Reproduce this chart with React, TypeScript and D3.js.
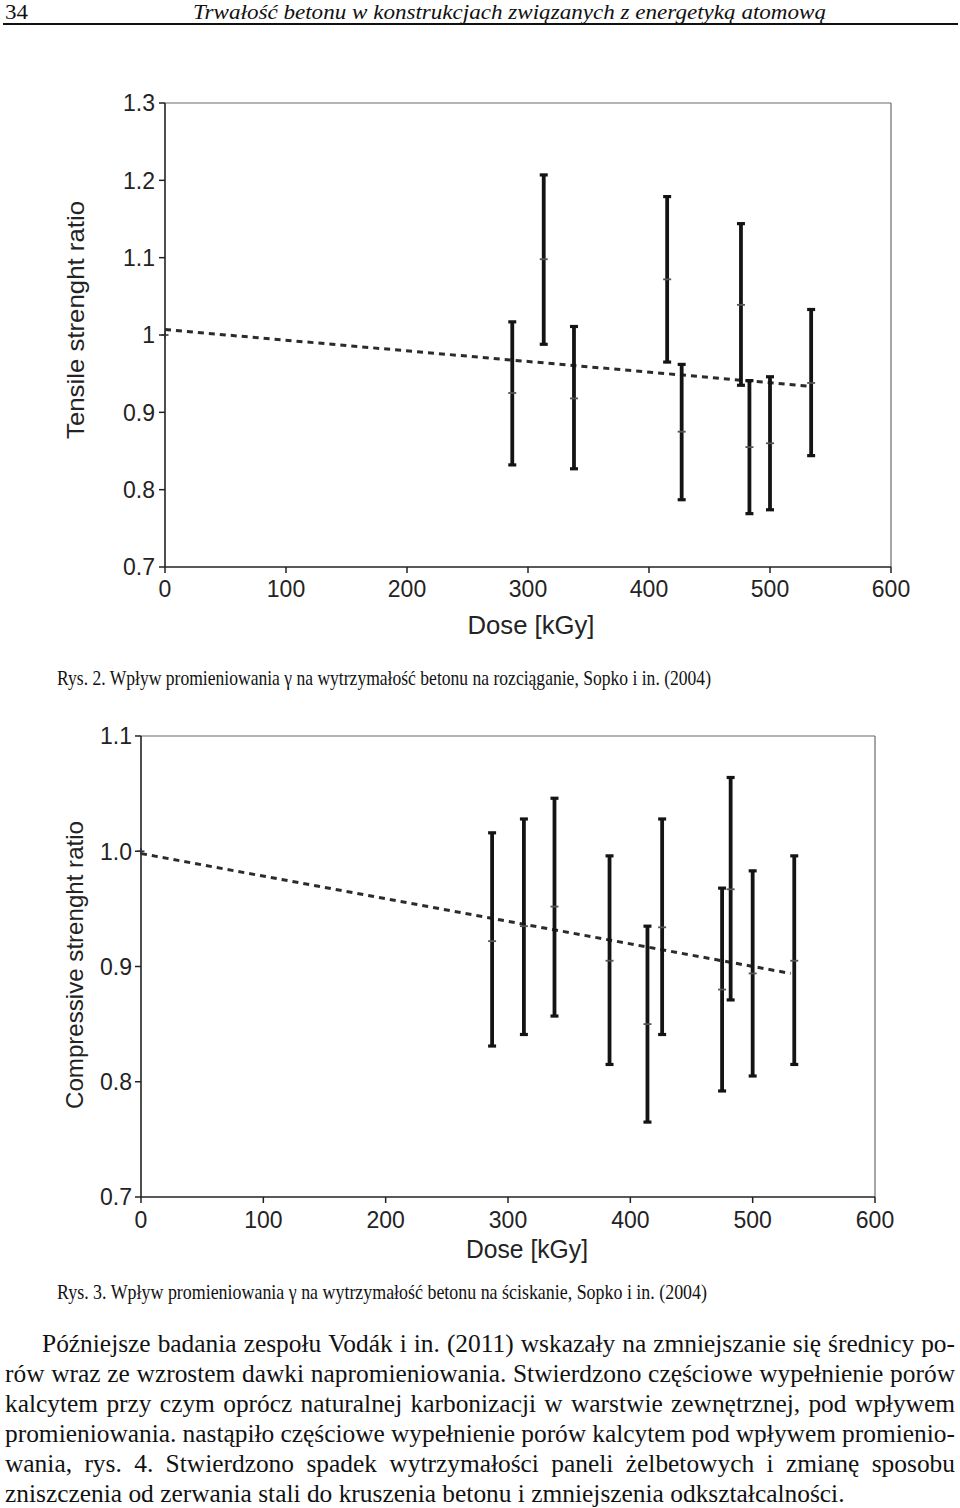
import React, { useMemo } from 'react';
import * as d3 from 'd3';

// ---------- Data: Fig. 2 (tensile) ----------
const tensileDose = [287, 313, 338, 415, 427, 476, 483, 500, 534];
const tensileMean = [0.925, 1.098, 0.918, 1.072, 0.875, 1.039, 0.855, 0.86, 0.938];
const tensileLow = [0.832, 0.988, 0.827, 0.965, 0.787, 0.935, 0.769, 0.774, 0.844];
const tensileHigh = [1.017, 1.207, 1.011, 1.179, 0.962, 1.144, 0.941, 0.946, 1.033];
const tensileRefDose = [0];
const tensileRefValue = [1.0];
const tensileTrendDose = [0, 531];
const tensileTrendValue = [1.007, 0.934];
const tensileYTicks = [0.7, 0.8, 0.9, 1.0, 1.1, 1.2, 1.3];
const tensileYLabels = ['0.7', '0.8', '0.9', '1', '1.1', '1.2', '1.3'];

// ---------- Data: Fig. 3 (compressive) ----------
const compDose = [287, 313, 338, 383, 414, 426, 475, 482, 500, 534];
const compMean = [0.922, 0.935, 0.952, 0.905, 0.85, 0.934, 0.88, 0.967, 0.894, 0.905];
const compLow = [0.831, 0.841, 0.857, 0.815, 0.765, 0.841, 0.792, 0.871, 0.805, 0.815];
const compHigh = [1.016, 1.028, 1.046, 0.996, 0.935, 1.028, 0.968, 1.064, 0.983, 0.996];
const compRefDose = [0];
const compRefValue = [1.0];
const compTrendDose = [0, 531];
const compTrendValue = [0.998, 0.894];
const compYTicks = [0.7, 0.8, 0.9, 1.0, 1.1];
const compYLabels = ['0.7', '0.8', '0.9', '1.0', '1.1'];

const doseTicks = [0, 100, 200, 300, 400, 500, 600];
const doseLabels = ['0', '100', '200', '300', '400', '500', '600'];

// ---------- Texts ----------
const headerPage = '34';
const headerTitle = 'Trwałość betonu w konstrukcjach związanych z energetyką atomową';
const caption2 = 'Rys. 2. Wpływ promieniowania γ na wytrzymałość betonu na rozciąganie, Sopko i in. (2004)';
const caption3 = 'Rys. 3. Wpływ promieniowania γ na wytrzymałość betonu na ściskanie, Sopko i in. (2004)';
const paragraphLines = [
  'Późniejsze badania zespołu Vodák i in. (2011) wskazały na zmniejszanie się średnicy po-',
  'rów wraz ze wzrostem dawki napromieniowania. Stwierdzono częściowe wypełnienie porów',
  'kalcytem przy czym oprócz naturalnej karbonizacji w warstwie zewnętrznej, pod wpływem',
  'promieniowania. nastąpiło częściowe wypełnienie porów kalcytem pod wpływem promienio-',
  'wania, rys. 4. Stwierdzono spadek wytrzymałości paneli żelbetowych i zmianę sposobu',
  'zniszczenia od zerwania stali do kruszenia betonu i zmniejszenia odkształcalności.',
];

const SANS = '"Liberation Sans", Arial, Helvetica, sans-serif';
const SERIF = '"Liberation Serif", "Times New Roman", serif';
const TXT = '#232323';

type ChartProps = {
  left: number; right: number; top: number; bottom: number;
  yDomain: [number, number];
  yTicks: number[]; yLabels: string[];
  dose: number[]; mean: number[]; low: number[]; high: number[];
  refDose: number[]; refValue: number[];
  trendDose: number[]; trendValue: number[];
  yTitle: string; yTitleX: number; yTitleY: number; yTitleLen: number;
  xTitleX: number; xTitleY: number; xTitleLen: number;
  yLabelGap: number; xLabelDy: number;
};

function ErrorChart(p: ChartProps) {
  const x = d3.scaleLinear().domain([0, 600]).range([p.left, p.right]);
  const y = d3.scaleLinear().domain(p.yDomain).range([p.bottom, p.top]);
  const line = d3.line<[number, number]>();
  const trendPath = line(p.trendDose.map((d, i) => [x(d), y(p.trendValue[i])] as [number, number])) || '';
  const cap = 4;
  return (
    <g>
      {/* frame */}
      <line x1={p.left} x2={p.right} y1={p.top} y2={p.top} stroke="#6a6a6a" strokeWidth={1.2} />
      <line x1={p.right} x2={p.right} y1={p.top} y2={p.bottom} stroke="#6a6a6a" strokeWidth={1.2} />
      <line x1={p.left} x2={p.left} y1={p.top} y2={p.bottom} stroke="#222" strokeWidth={1.6} />
      <line x1={p.left} x2={p.right} y1={p.bottom} y2={p.bottom} stroke="#222" strokeWidth={1.6} />
      {/* y ticks */}
      {p.yTicks.map((t, i) => (
        <g key={'yt' + i}>
          <line x1={p.left - 6} x2={p.left} y1={y(t)} y2={y(t)} stroke="#222" strokeWidth={1.5} />
          <text x={p.left - p.yLabelGap} y={y(t)} dy="0.36em" textAnchor="end" fontFamily={SANS} fontSize={23} fill={TXT}>
            {p.yLabels[i]}
          </text>
        </g>
      ))}
      {/* x ticks */}
      {doseTicks.map((t, i) => (
        <g key={'xt' + i}>
          <line x1={x(t)} x2={x(t)} y1={p.bottom} y2={p.bottom + 6} stroke="#222" strokeWidth={1.5} />
          <text x={x(t)} y={p.bottom + p.xLabelDy} textAnchor="middle" fontFamily={SANS} fontSize={23} fill={TXT}>
            {doseLabels[i]}
          </text>
        </g>
      ))}
      {/* titles */}
      <text x={p.xTitleX} y={p.xTitleY} textAnchor="middle" fontFamily={SANS} fontSize={25} fill={TXT}
        textLength={p.xTitleLen} lengthAdjust="spacingAndGlyphs">Dose [kGy]</text>
      <text transform={`translate(${p.yTitleX},${p.yTitleY}) rotate(-90)`} textAnchor="middle" fontFamily={SANS}
        fontSize={24} fill={TXT} textLength={p.yTitleLen} lengthAdjust="spacingAndGlyphs">{p.yTitle}</text>
      {/* trend line */}
      <path d={trendPath} fill="none" stroke="#2b2b2b" strokeWidth={3} strokeDasharray="6 5" />
      {/* error bars */}
      {p.dose.map((d, i) => {
        const cx = x(d);
        return (
          <g key={'eb' + i}>
            <line x1={cx} x2={cx} y1={y(p.low[i])} y2={y(p.high[i])} stroke="#141414" strokeWidth={3.8} />
            <line x1={cx - cap} x2={cx + cap} y1={y(p.high[i])} y2={y(p.high[i])} stroke="#141414" strokeWidth={3.2} />
            <line x1={cx - cap} x2={cx + cap} y1={y(p.low[i])} y2={y(p.low[i])} stroke="#141414" strokeWidth={3.2} />
            <line x1={cx - 4} x2={cx + 4} y1={y(p.mean[i])} y2={y(p.mean[i])} stroke="#555" strokeWidth={1.8} />
          </g>
        );
      })}
      {p.refDose.map((d, i) => (
        <g key={'ref' + i}>
          <line x1={x(d) - 3.5} x2={x(d) + 3.5} y1={y(p.refValue[i])} y2={y(p.refValue[i])} stroke="#333" strokeWidth={1.6} />
          <line x1={x(d)} x2={x(d)} y1={y(p.refValue[i]) - 3.5} y2={y(p.refValue[i]) + 3.5} stroke="#333" strokeWidth={1.6} />
        </g>
      ))}
    </g>
  );
}

function Paragraph() {
  const layout = useMemo(() => {
    const canvas = document.createElement('canvas');
    const ctx = canvas.getContext('2d')!;
    const measure = (s: string, fs: number) => {
      ctx.font = `${fs}px "Liberation Serif"`;
      return ctx.measureText(s).width;
    };
    const lastW = measure(paragraphLines[paragraphLines.length - 1], 100) / 100;
    const fs = 840 / lastW;
    const rightEdge = 955;
    const lines = paragraphLines.map((ln, li) => {
      const x0 = li === 0 ? 42 : 5;
      const words = ln.split(' ');
      const widths = words.map((w) => measure(w, fs));
      const isLast = li === paragraphLines.length - 1;
      const total = d3.sum(widths);
      const gap = isLast ? measure(' ', fs) : (rightEdge - x0 - total) / (words.length - 1);
      let cx = x0;
      const pos = words.map((w, i) => {
        const px = cx;
        cx += widths[i] + gap;
        return { w, x: px };
      });
      return { pos, y: 1351.5 + li * 30 };
    });
    return { fs, lines };
  }, []);
  return (
    <g fontFamily={SERIF} fontSize={layout.fs} fill="#111">
      {layout.lines.map((l, li) => (
        <text key={li} y={l.y}>
          {l.pos.map((p, i) => (
            <tspan key={i} x={p.x}>{p.w}</tspan>
          ))}
        </text>
      ))}
    </g>
  );
}

export default function App() {
  return (
    <svg width={960} height={1508} viewBox="0 0 960 1508"
      style={{ position: 'absolute', left: 0, top: 0, background: '#fff', display: 'block' }}>
      <rect x={0} y={0} width={960} height={1508} fill="#fff" />
      {/* header */}
      <text x={5} y={19} fontFamily={SERIF} fontSize={21} fill="#111"
        textLength={23} lengthAdjust="spacingAndGlyphs">{headerPage}</text>
      <text x={193} y={19} fontFamily={SERIF} fontStyle="italic" fontSize={21} fill="#111"
        textLength={633} lengthAdjust="spacingAndGlyphs">{headerTitle}</text>
      <line x1={3} x2={958} y1={24} y2={24} stroke="#111" strokeWidth={2} />

      <ErrorChart
        left={165} right={891} top={103} bottom={567}
        yDomain={[0.7, 1.3]} yTicks={tensileYTicks} yLabels={tensileYLabels}
        dose={tensileDose} mean={tensileMean} low={tensileLow} high={tensileHigh}
        refDose={tensileRefDose} refValue={tensileRefValue}
        trendDose={tensileTrendDose} trendValue={tensileTrendValue}
        yTitle="Tensile strenght ratio" yTitleX={84} yTitleY={320} yTitleLen={238}
        xTitleX={531} xTitleY={634} xTitleLen={127}
        yLabelGap={10} xLabelDy={30}
      />
      <text x={57} y={685} fontFamily={SERIF} fontSize={21} fill="#111" textLength={654}
        lengthAdjust="spacingAndGlyphs">{caption2}</text>

      <ErrorChart
        left={141} right={875} top={736} bottom={1197}
        yDomain={[0.7, 1.1]} yTicks={compYTicks} yLabels={compYLabels}
        dose={compDose} mean={compMean} low={compLow} high={compHigh}
        refDose={compRefDose} refValue={compRefValue}
        trendDose={compTrendDose} trendValue={compTrendValue}
        yTitle="Compressive strenght ratio" yTitleX={83} yTitleY={965} yTitleLen={288}
        xTitleX={527} xTitleY={1258} xTitleLen={122}
        yLabelGap={9} xLabelDy={31}
      />
      <text x={57} y={1299} fontFamily={SERIF} fontSize={21} fill="#111" textLength={650}
        lengthAdjust="spacingAndGlyphs">{caption3}</text>

      <Paragraph />
    </svg>
  );
}
